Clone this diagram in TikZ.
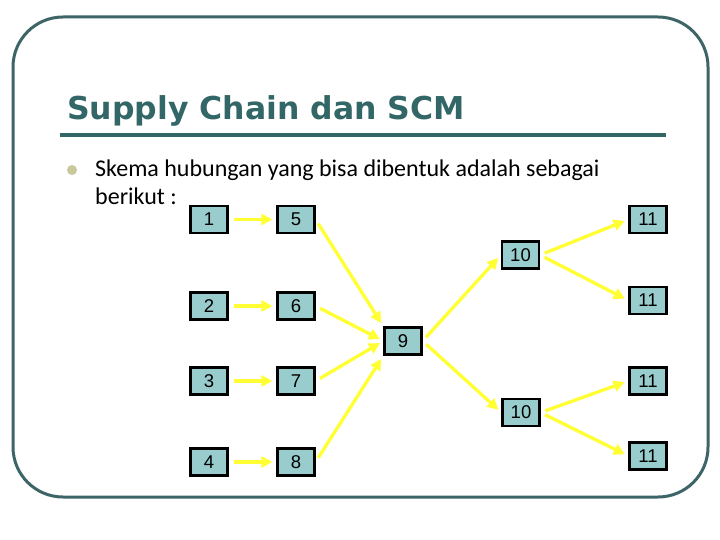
\documentclass[tikz,border=0pt]{standalone}
\usepackage{fontspec}
\setmainfont{Carlito}
\newfontfamily\titlefont{DejaVu Sans}
\newfontfamily\numfont{Liberation Sans}
\usetikzlibrary{arrows.meta}
\definecolor{framecol}{HTML}{3D6466}
\definecolor{titlecol}{HTML}{336666}
\definecolor{bulletcol}{HTML}{C8C89A}
\definecolor{boxfill}{HTML}{99CCCC}
\definecolor{arrowyellow}{HTML}{FFFF33}
\begin{document}
\begin{tikzpicture}[x=1pt,y=-1pt,
  box/.style={draw=black,line width=2.2pt,fill=boxfill,minimum width=37pt,minimum height=27pt,inner sep=0pt,font=\numfont\fontsize{18.5}{18.5}\selectfont},
  flow/.style={draw=arrowyellow,line width=3.3pt,-{Triangle[length=11pt,width=11pt]},shorten <=5pt,shorten >=4pt},
  bodytext/.style={anchor=base west,inner sep=0pt,font=\fontsize{24}{28}\selectfont}]
\useasboundingbox (0,0) rectangle (720,540);
\draw[framecol,line width=3pt,rounded corners=50pt] (13,17) rectangle (708,497);
% title
\node[anchor=base west,inner sep=0pt,text=titlecol,font=\titlefont\bfseries\fontsize{31.5}{36}\selectfont] (title) at (67,120) {Supply Chain dan SCM};
\coordinate (ul1) at (60,135);
\coordinate (ul2) at (666,135);
\draw[titlecol,line width=3.3pt] (ul1) -- (ul2);
% bullet text
\node[circle,fill=bulletcol,minimum size=10pt,inner sep=0pt] (bullet) at (72,170) {};
\node[bodytext] (line1) at (95,177) {Skema hubungan yang bisa dibentuk adalah sebagai};
\node[bodytext] (line2) at (95,205) {berikut :};
% boxes
\node[box] (n1) at (209,219.5) {1};
\node[box] (n2) at (209,306) {2};
\node[box] (n3) at (209,381) {3};
\node[box] (n4) at (209,462) {4};
\node[box] (n5) at (296,219.5) {5};
\node[box] (n6) at (296,306) {6};
\node[box] (n7) at (296,381) {7};
\node[box] (n8) at (296,462) {8};
\node[box] (n9) at (403,341) {9};
\node[box] (n10a) at (520.5,255) {10};
\node[box] (n10b) at (521,412.5) {10};
\node[box] (n11a) at (648,219.5) {11};
\node[box] (n11b) at (648,300.5) {11};
\node[box] (n11c) at (648,381) {11};
\node[box] (n11d) at (648,456) {11};
% arrows
\draw[flow] (n1) -- (n5);
\draw[flow] (n2) -- (n6);
\draw[flow] (n3) -- (n7);
\draw[flow] (n4) -- (n8);
\draw[flow] (n5.east) -- (n9.north west);
\draw[flow] (n6.east) -- (n9.west);
\draw[flow] (n7.east) -- (n9.west);
\draw[flow] (n8.east) -- (n9.south west);
\draw[flow] (n9.east) -- (n10a.west);
\draw[flow] (n9.east) -- (n10b.west);
\draw[flow] (n10a.east) -- (n11a.west);
\draw[flow] (n10a.east) -- (n11b.west);
\draw[flow] (n10b.east) -- (n11c.west);
\draw[flow] (n10b.east) -- (n11d.west);
\end{tikzpicture}
\end{document}
